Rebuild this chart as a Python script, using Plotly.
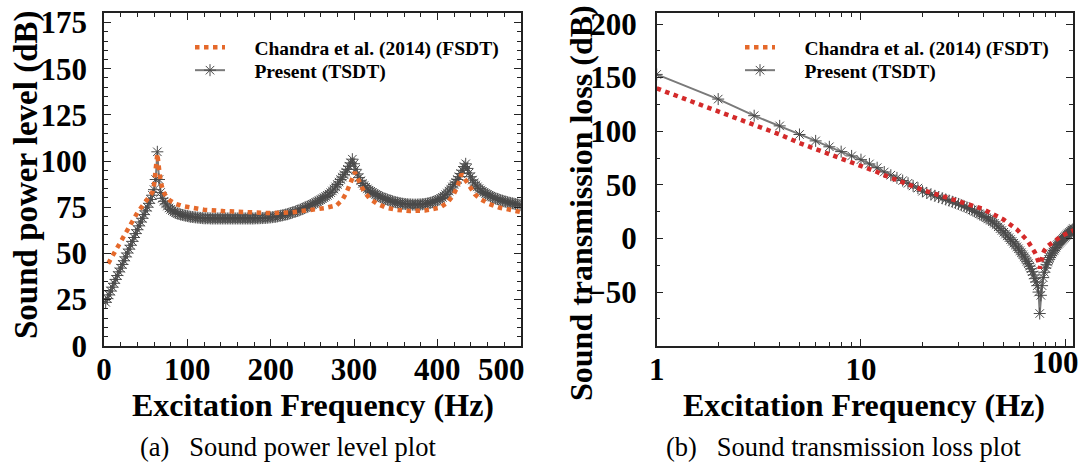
import plotly.graph_objects as go

# ---------------- (a) sound power level ----------------
spl_freq_tsdt = list(range(2, 501, 2))
spl_tsdt = [
    23.5, 25.5, 27.5, 29.6, 31.7, 33.8, 35.9, 38.0, 40.0, 42.0,
    44.0, 46.0, 48.1, 50.2, 52.3, 54.4, 56.5, 58.6, 60.7, 62.8,
    64.9, 67.0, 69.0, 71.0, 73.0, 75.0, 77.1, 79.2, 81.5, 84.5,
    90.0, 105.0, 90.0, 83.0, 79.8, 78.2, 76.8, 75.6, 74.6, 73.8,
    73.1, 72.5, 72.0, 71.6, 71.3, 71.0, 70.8, 70.6, 70.4, 70.2,
    70.0, 69.8, 69.7, 69.6, 69.5, 69.4, 69.3, 69.2, 69.1, 69.0,
    69.0, 69.0, 69.0, 68.9, 68.9, 68.9, 68.9, 68.9, 68.9, 68.9,
    68.9, 68.9, 68.9, 68.9, 68.9, 68.9, 68.9, 68.9, 68.9, 68.9,
    68.9, 68.9, 68.9, 68.9, 68.9, 68.9, 68.9, 68.9, 68.9, 68.9,
    69.0, 69.0, 69.0, 69.1, 69.1, 69.2, 69.2, 69.3, 69.4, 69.5,
    69.6, 69.7, 69.8, 70.0, 70.2, 70.4, 70.6, 70.8, 71.0, 71.2,
    71.5, 71.8, 72.1, 72.4, 72.7, 73.0, 73.3, 73.7, 74.1, 74.5,
    74.9, 75.3, 75.7, 76.1, 76.5, 77.0, 77.5, 78.0, 78.5, 79.0,
    79.6, 80.2, 80.8, 81.4, 82.1, 82.9, 83.8, 84.8, 86.0, 87.3,
    88.6, 90.0, 91.3, 92.6, 94.0, 95.5, 97.2, 99.0, 101.0, 98.5,
    95.5, 93.0, 91.0, 89.3, 87.9, 86.7, 85.8, 84.9, 84.2, 83.6,
    83.0, 82.4, 81.9, 81.4, 80.9, 80.5, 80.1, 79.7, 79.4, 79.1,
    78.8, 78.5, 78.2, 77.9, 77.7, 77.5, 77.3, 77.1, 76.9, 76.8,
    76.7, 76.6, 76.5, 76.5, 76.4, 76.4, 76.4, 76.4, 76.5, 76.5,
    76.6, 76.7, 76.8, 77.0, 77.2, 77.4, 77.7, 78.0, 78.3, 78.7,
    79.2, 79.7, 80.3, 81.0, 81.8, 82.7, 83.7, 84.8, 86.0, 87.3,
    88.5, 90.0, 91.5, 93.2, 95.0, 97.0, 98.5, 96.0, 93.5, 91.5,
    89.7, 88.2, 87.0, 86.0, 85.1, 84.3, 83.6, 83.0, 82.4, 81.9,
    81.4, 80.9, 80.5, 80.1, 79.7, 79.4, 79.1, 78.8, 78.5, 78.2,
    78.0, 77.7, 77.5, 77.3, 77.1, 76.9, 76.7, 76.5, 76.3, 76.1,
]

spl_freq_fsdt = [
    5, 10, 15, 20, 25, 30, 35, 40, 45, 50, 55, 58, 60, 62, 64, 66, 68, 71,
    75, 79, 85, 95, 103, 120, 143, 170, 200, 225, 247, 265, 279, 286, 291,
    296, 301, 304, 307, 312, 319, 328, 339, 352, 367, 385, 403, 412, 419,
    424, 429, 433, 436, 439, 445, 451, 462, 475, 488, 500,
]
spl_fsdt = [
    44.5, 48.5, 52.5, 57.0, 61.0, 64.5, 68.5, 72.0, 75.0, 78.0, 80.5, 83.0,
    87.0, 95.0, 104.0, 96.0, 89.0, 83.5, 80.5, 78.7, 77.0, 75.5, 74.7, 73.6,
    72.9, 72.3, 71.8, 72.2, 73.3, 74.5, 76.0, 79.0, 83.0, 88.0, 94.0, 91.0,
    87.7, 83.5, 79.6, 76.8, 74.7, 73.5, 72.9, 73.2, 74.7, 77.5, 81.4, 86.0,
    93.0, 90.0, 88.0, 85.9, 82.0, 79.6, 76.8, 74.7, 73.3, 72.4,
]

# ---------------- (b) sound transmission loss ----------------
stl_freq = list(range(1, 111))
stl_tsdt = [
    153.0, 130.0, 114.5, 105.0, 97.0, 91.0, 85.5, 81.0, 77.0, 73.5,
    69.5, 66.0, 62.0, 59.0, 56.5, 54.0, 51.5, 49.0, 47.0, 44.0,
    42.5, 41.0, 39.8, 38.6, 37.5, 36.4, 35.3, 34.2, 33.2, 32.2,
    31.0, 30.0, 29.0, 27.8, 26.6, 25.4, 24.2, 23.0, 21.8, 20.5,
    19.4, 18.2, 17.0, 15.6, 14.2, 12.6, 10.9, 9.2, 7.5, 5.8,
    4.1, 2.4, 0.7, -1.0, -2.7, -4.4, -6.1, -7.8, -9.6, -11.4,
    -13.3, -15.2, -17.2, -19.2, -21.3, -23.5, -25.8, -28.3, -31.0, -34.0,
    -37.5, -40.5, -44.0, -50.0, -70.0, -53.0, -44.0, -36.5, -31.5, -27.5,
    -24.5, -22.0, -19.8, -17.8, -16.0, -14.3, -12.7, -11.2, -9.8, -8.5,
    -6.8, -5.6, -4.5, -3.5, -2.5, -1.6, -0.7, 0.2, 1.0, 1.8,
    2.6, 3.4, 4.2, 5.0, 5.7, 6.4, 7.1, 7.8, 8.5, 9.2,
]
stl_fsdt = [
    140.0, 119.0, 106.5, 97.0, 89.0, 83.5, 78.5, 74.5, 71.0, 68.0,
    65.0, 62.0, 59.0, 56.5, 54.5, 52.5, 50.5, 48.5, 46.8, 45.3,
    44.0, 42.8, 41.7, 40.7, 39.8, 38.9, 38.0, 37.2, 36.4, 35.6,
    34.8, 34.0, 33.2, 32.4, 31.6, 30.7, 29.8, 28.9, 27.9, 26.9,
    26.0, 25.1, 24.2, 23.3, 22.4, 21.5, 20.5, 19.5, 18.5, 17.5,
    16.4, 15.3, 14.2, 13.1, 12.0, 10.8, 9.6, 8.3, 7.0, 5.7,
    4.3, 2.9, 1.4, -0.1, -1.7, -3.3, -5.0, -6.8, -8.7, -10.8,
    -13.0, -15.5, -18.5, -22.0, -28.0, -21.0, -16.5, -13.5, -11.2, -9.3,
    -8.2, -7.2, -6.3, -5.5, -4.7, -3.9, -3.2, -2.5, -1.8, -1.1,
    -0.5, 0.1, 0.7, 1.2, 1.7, 2.2, 2.7, 3.2, 3.6, 4.0,
    4.4, 4.8, 5.2, 5.6, 6.0, 6.4, 6.8, 7.1, 7.4, 7.7,
]

name_fsdt = "Chandra et al. (2014) (FSDT)"
name_tsdt = "Present (TSDT)"
NB = "\u00a0"
spl_ticks = [0, 100, 200, 300, 400, 500]
spl_labels = ["0", "100", "200", "300", "400", "500" + NB * 5]
stl_ticks = [1, 10]
stl_last_tick = [100]

SERIF = "Liberation Serif, Times New Roman, serif"
ORANGE = "#E5692B"
RED = "#D42A2A"
GRAY_LINE = "#7a7a7a"
GRAY_MARK = "#4a4a4a"
PAD = NB * 5

tsdt_marker = dict(symbol="asterisk-open", size=10, color=GRAY_MARK, line=dict(width=1))

fig = go.Figure()

# (a) traces: each legend entry sits in its own legend box
fig.add_trace(go.Scatter(
    x=spl_freq_tsdt, y=spl_tsdt, mode="lines+markers", name=PAD + name_tsdt,
    line=dict(color=GRAY_LINE, width=2), marker=tsdt_marker,
    xaxis="x", yaxis="y", legend="legend3"))
fig.add_trace(go.Scatter(
    x=spl_freq_fsdt, y=spl_fsdt, mode="lines", name=PAD + name_fsdt,
    line=dict(color=ORANGE, width=4.5, dash="dot"),
    xaxis="x", yaxis="y", legend="legend"))

# (b) traces
fig.add_trace(go.Scatter(
    x=stl_freq, y=stl_tsdt, mode="lines+markers", name=PAD + name_tsdt,
    line=dict(color=GRAY_LINE, width=2), marker=tsdt_marker,
    xaxis="x2", yaxis="y2", legend="legend4"))
fig.add_trace(go.Scatter(
    x=stl_freq, y=stl_fsdt, mode="lines", name=PAD + name_fsdt,
    line=dict(color=RED, width=4.5, dash="dot"), showlegend=False,
    xaxis="x2", yaxis="y2"))
fig.add_trace(go.Scatter(
    x=[None], y=[None], mode="lines", name=PAD + name_fsdt,
    line=dict(color=ORANGE, width=4.5, dash="dot"),
    xaxis="x2", yaxis="y2", legend="legend2"))
# empty trace that keeps the overlay axis (last log label) alive
fig.add_trace(go.Scatter(
    x=[None], y=[None], mode="lines", showlegend=False, hoverinfo="skip",
    xaxis="x3", yaxis="y2"))

W, H = 1083, 473


def px(x):
    return x / W


def py(y):
    return 1 - y / H


tickfont = dict(family=SERIF, size=31, color="black", weight="bold")
base_axis = dict(
    showline=True, linecolor="#222", linewidth=1.5, mirror="ticks",
    ticks="inside", ticklen=7, tickwidth=1.2, tickcolor="#222",
    tickfont=tickfont, showgrid=False, zeroline=False, automargin=False,
    ticklabeloverflow="allow",
)
minor = dict(ticks="inside", ticklen=4, tickwidth=1.0, tickcolor="#222", showgrid=False)

legend_font = dict(family=SERIF, size=19.5, color="black", weight="bold")


def legend_box(x0, y0):
    return dict(x=px(x0), y=py(y0), xanchor="left", yanchor="top",
                bgcolor="rgba(0,0,0,0)", font=legend_font, itemwidth=30)


stl_xrange = [0, 2.038]
stl_xdomain = [px(656.7), px(1073)]

fig.update_layout(
    width=W, height=H, margin=dict(l=0, r=0, t=0, b=0, autoexpand=False),
    paper_bgcolor="white", plot_bgcolor="white",
    xaxis=dict(base_axis, domain=[px(104), px(520.7)], range=[0, 500],
               tickvals=spl_ticks, ticktext=spl_labels, anchor="y",
               minor=dict(minor, dtick=20), ticklabelstandoff=-5),
    yaxis=dict(base_axis, domain=[py(345.7), py(13.3)], range=[0, 180],
               tickvals=[0, 25, 50, 75, 100, 125, 150, 175], anchor="x",
               minor=dict(minor, dtick=5), ticklabelstandoff=9),
    xaxis2=dict(base_axis, domain=stl_xdomain, type="log",
                range=stl_xrange, tickvals=stl_ticks, anchor="y2",
                minor=dict(minor, tickvals=[2, 3, 4, 5, 6, 7, 8, 9,
                                            20, 30, 40, 50, 60, 70, 80, 90]),
                ticklabelstandoff=-5),
    # overlay axis: major tick and label at 100, label nudged inward
    xaxis3=dict(base_axis, overlaying="x2", anchor="y2", type="log",
                range=stl_xrange, tickvals=stl_last_tick, ticktext=["100"],
                showline=False, mirror=False, ticklabelshift=-10,
                ticklabelstandoff=-5),
    yaxis2=dict(base_axis, domain=[py(345.7), py(13.3)], range=[-100, 210],
                tickvals=[-50, 0, 50, 100, 150, 200], anchor="x2",
                minor=dict(minor, dtick=25), ticklabelstandoff=12),
    legend=legend_box(190, 28),
    legend3=legend_box(190, 51),
    legend2=legend_box(740, 28),
    legend4=legend_box(740, 51),
)

xtitle_font = dict(family=SERIF, size=32, color="black", weight="bold")
ytitle_font = dict(family=SERIF, size=33, color="black", weight="bold")
ytitle2_font = dict(family=SERIF, size=32, color="black", weight="bold")
caption_font = dict(family=SERIF, size=26.5, color="black")
annots = [
    dict(text="Excitation Frequency (Hz)", x=px(313), y=py(405), font=xtitle_font),
    dict(text="Excitation Frequency (Hz)", x=px(864), y=py(405), font=xtitle_font),
    dict(text="Sound power level (dB)", x=px(26), y=py(175), font=ytitle_font, textangle=-90),
    dict(text="Sound transmission loss (dB)", x=px(581), y=py(203), font=ytitle2_font, textangle=-90),
    dict(text="(a)" + NB * 3 + "Sound power level plot", x=px(288), y=py(447), font=caption_font),
    dict(text="(b)" + NB * 3 + "Sound transmission loss plot", x=px(843), y=py(447), font=caption_font),
]
for a in annots:
    fig.add_annotation(xref="paper", yref="paper", showarrow=False,
                       xanchor="center", yanchor="middle", **a)

fig.write_html("out.html")
